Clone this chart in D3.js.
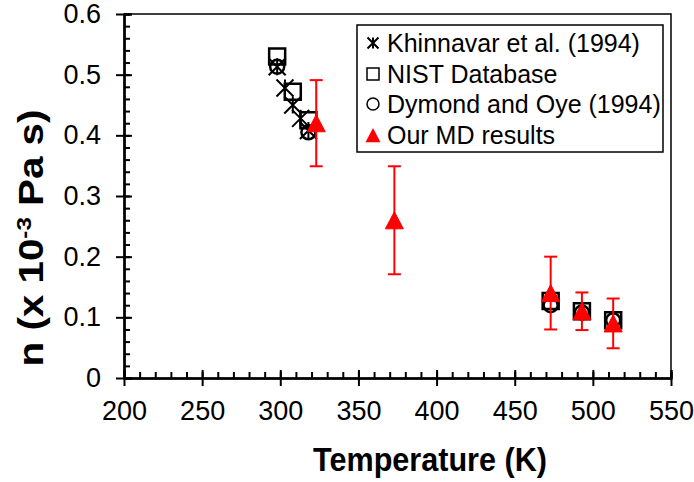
<!DOCTYPE html>
<html>
<head>
<meta charset="utf-8">
<script src="https://cdn.jsdelivr.net/npm/d3@7"></script>
<style>
  body { margin: 0; background: #fff; }
  svg text { font-family: "Liberation Sans", Arial, sans-serif; }
  .axis path, .axis line { stroke: #000; stroke-width: 2; }
  .axis text { font-size: 27px; fill: #000; }
</style>
</head>
<body>
<svg id="chart" width="694" height="482"></svg>
<script>
// Khinnavar et al. (1994)
let khinT = [298, 303, 308, 313, 318];
let khinVal = [0.513, 0.478, 0.450, 0.428, 0.408];
// NIST Database
let nistT = [298, 308, 318, 473, 493, 513];
let nistVal = [0.530, 0.472, 0.425, 0.127, 0.110, 0.095];
// Dymond and Oye (1994)
let dymT = [298, 318, 473, 493, 513];
let dymVal = [0.513, 0.405, 0.120, 0.108, 0.095];
// Our MD results, with error
let mdT = [323, 373, 473, 493, 513];
let mdVal = [0.42, 0.26, 0.14, 0.11, 0.09];
let mdErr = [0.071, 0.089, 0.06, 0.031, 0.041];

let legendNames = ["Khinnavar et al. (1994)", "NIST Database", "Dymond and Oye (1994)", "Our MD results"];

let svg = d3.select("#chart");

let xScale = d3.scaleLinear().domain([200, 550]).range([124, 671]);
let yScale = d3.scaleLinear().domain([0, 0.6]).range([378, 14]);

// plot frame (top and right)
svg.append("path")
    .attr("d", `M${xScale(200)},${yScale(0.6)} H${xScale(550)} V${yScale(0)}`)
    .attr("fill", "none").attr("stroke", "#000").attr("stroke-width", 1.5);

// X axis: major ticks crossing, minor inward
let xMajor = d3.range(200, 551, 50);
let xMinor = d3.range(200, 551, 10);
svg.append("g").attr("class", "axis")
    .attr("transform", `translate(0,${yScale(0)})`)
    .call(d3.axisBottom(xScale).tickValues(xMajor).tickSizeInner(8).tickSizeOuter(0).tickPadding(15));
svg.append("g").attr("class", "axis")
    .attr("transform", `translate(0,${yScale(0)})`)
    .call(d3.axisBottom(xScale).tickValues(xMinor).tickSize(-6).tickFormat(""));
svg.append("g").attr("class", "axis")
    .attr("transform", `translate(0,${yScale(0)})`)
    .call(d3.axisBottom(xScale).tickValues(xMajor).tickSize(-8).tickFormat(""));

// Y axis
let yMajor = d3.range(0, 0.61, 0.1);
let yMinor = d3.range(0, 0.601, 0.02);
svg.append("g").attr("class", "axis")
    .attr("transform", `translate(${xScale(200)},0)`)
    .call(d3.axisLeft(yScale).tickValues(yMajor).tickSizeInner(8).tickSizeOuter(0).tickPadding(15)
        .tickFormat(d => d === 0 ? "0" : d3.format(".1f")(d)));
svg.append("g").attr("class", "axis")
    .attr("transform", `translate(${xScale(200)},0)`)
    .call(d3.axisLeft(yScale).tickValues(yMinor).tickSize(-6).tickFormat(""));
svg.append("g").attr("class", "axis")
    .attr("transform", `translate(${xScale(200)},0)`)
    .call(d3.axisLeft(yScale).tickValues(yMajor).tickSize(-8).tickFormat(""));

// fit a title to a given width by scaling it horizontally
function fitWidth(sel, width) {
    let w = sel.node().getComputedTextLength();
    return width / w;
}

// axis titles
let xTitleG = svg.append("g");
let xTitle = xTitleG.append("text")
    .attr("text-anchor", "middle")
    .style("font-size", "33px").style("font-weight", "bold")
    .text("Temperature (K)");
xTitleG.attr("transform", `translate(430,471) scale(${fitWidth(xTitle, 234)},1)`);

let yTitleG = svg.append("g");
let yTitle = yTitleG.append("text")
    .attr("text-anchor", "middle")
    .style("font-size", "35px").style("font-weight", "bold");
yTitle.append("tspan").text("n (x 10");
yTitle.append("tspan").attr("dy", -12).style("font-size", "21px").text("-3");
yTitle.append("tspan").attr("dy", 12).text(" Pa s)");
yTitleG.attr("transform", `translate(43,238) rotate(-90) scale(${fitWidth(yTitle, 257)},1)`);

// marker shapes
function starPath(s) {
    let h = s / 2;
    return `M${-h},${-h}L${h},${h}M${-h},${h}L${h},${-h}M0,${-h}L0,${h}`;
}
function squarePath(s) {
    let h = s / 2;
    return `M${-h},${-h}H${h}V${h}H${-h}Z`;
}
function trianglePath(w) {
    let h = w * 0.95;
    return `M0,${-h / 2}L${w / 2},${h / 2}L${-w / 2},${h / 2}Z`;
}

// Khinnavar
svg.append("g").selectAll("path")
    .data(khinT).enter().append("path")
    .attr("transform", (d, i) => `translate(${xScale(d)},${yScale(khinVal[i])})`)
    .attr("d", starPath(17))
    .attr("fill", "none").attr("stroke", "#000").attr("stroke-width", 2);

// NIST
svg.append("g").selectAll("path")
    .data(nistT).enter().append("path")
    .attr("transform", (d, i) => `translate(${xScale(d)},${yScale(nistVal[i])})`)
    .attr("d", squarePath(16))
    .attr("fill", "none").attr("stroke", "#000").attr("stroke-width", 2.5);

// Dymond and Oye
svg.append("g").selectAll("circle")
    .data(dymT).enter().append("circle")
    .attr("cx", d => xScale(d))
    .attr("cy", (d, i) => yScale(dymVal[i]))
    .attr("r", 7)
    .attr("fill", "none").attr("stroke", "#000").attr("stroke-width", 2.5);

// MD error bars
let eb = svg.append("g").attr("stroke", "#ff0000").attr("stroke-width", 2);
mdT.forEach(function (t, i) {
    let cx = xScale(t);
    let y1 = yScale(mdVal[i] + mdErr[i]);
    let y2 = yScale(mdVal[i] - mdErr[i]);
    eb.append("line").attr("x1", cx).attr("x2", cx).attr("y1", y1).attr("y2", y2);
    eb.append("line").attr("x1", cx - 6.5).attr("x2", cx + 6.5).attr("y1", y1).attr("y2", y1);
    eb.append("line").attr("x1", cx - 6.5).attr("x2", cx + 6.5).attr("y1", y2).attr("y2", y2);
});

// MD triangles
svg.append("g").selectAll("path")
    .data(mdT).enter().append("path")
    .attr("transform", (d, i) => `translate(${xScale(d)},${yScale(mdVal[i])})`)
    .attr("d", trianglePath(18))
    .attr("fill", "#ff0000").attr("stroke", "#ff0000").attr("stroke-width", 1);

// Legend
let legend = svg.append("g");
legend.append("rect")
    .attr("x", 357).attr("y", 25).attr("width", 306).attr("height", 127)
    .attr("fill", "#fff").attr("stroke", "#000").attr("stroke-width", 1.5);

let rowY = [43, 74, 104, 135];
legendNames.forEach(function (name, i) {
    let g = legend.append("g").attr("transform", `translate(373,${rowY[i]})`);
    if (i === 0) {
        g.append("path").attr("d", starPath(11)).attr("fill", "none").attr("stroke", "#000").attr("stroke-width", 2);
    } else if (i === 1) {
        g.append("path").attr("d", squarePath(12)).attr("fill", "none").attr("stroke", "#000").attr("stroke-width", 1.5);
    } else if (i === 2) {
        g.append("circle").attr("r", 6).attr("fill", "none").attr("stroke", "#000").attr("stroke-width", 1.5);
    } else {
        g.append("path").attr("d", trianglePath(15)).attr("fill", "#ff0000");
    }
    legend.append("text")
        .attr("x", 387).attr("y", rowY[i])
        .attr("dy", "0.35em")
        .style("font-size", "25px")
        .text(name);
});
</script>
</body>
</html>
